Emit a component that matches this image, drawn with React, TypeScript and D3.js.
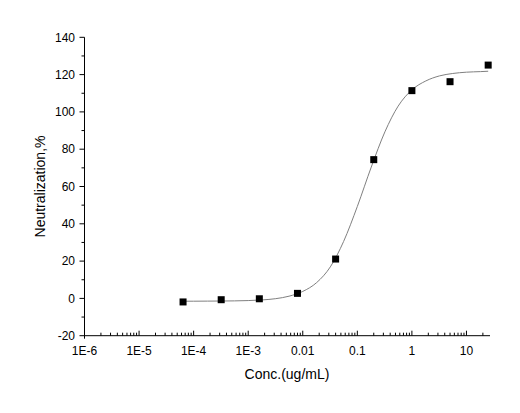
import React from 'react';
import * as d3 from 'd3';

// measured points (5-fold dilution series)
const conc = [0.000064, 0.00032, 0.0016, 0.008, 0.04, 0.2, 1, 5, 25];
const neutralization = [-1.9, -0.7, -0.2, 2.7, 21.1, 74.4, 111.4, 116.2, 125.1];

// fitted curve
const curveConc = [
  0.000064, 0.0001, 0.00018, 0.00032, 0.00056, 0.001, 0.0018, 0.0032, 0.0056,
  0.01, 0.018, 0.032, 0.056, 0.1, 0.18, 0.32, 0.56, 1, 1.8, 3.2, 5.6, 10, 18, 25,
];
const curveValue = [
  -1.5, -1.5, -1.46, -1.41, -1.33, -1.16, -0.82, -0.14, 1.18,
  3.74, 8.5, 16.9, 30.5, 49.3, 70.4, 89.3, 103.1, 111.8, 116.6, 119.3, 120.6, 121.3, 121.6, 121.8,
];

const xTicks = [1e-6, 1e-5, 1e-4, 1e-3, 0.01, 0.1, 1, 10];
const xTickLabels = ['1E-6', '1E-5', '1E-4', '1E-3', '0.01', '0.1', '1', '10'];
const yTicks = [-20, 0, 20, 40, 60, 80, 100, 120, 140];

const W = 520;
const H = 413;
const font = 'Arial, "Liberation Sans", sans-serif';

export default function App() {
  const x = d3.scaleLog().domain([1e-6, 27]).range([84.5, 490]);
  const y = d3.scaleLinear().domain([-20, 140]).range([335.7, 37.3]);

  // minor ticks 2..9 within each decade
  const xMinor: number[] = [];
  for (let e = -6; e <= 1; e++) {
    for (let m = 2; m <= 9; m++) {
      const v = m * Math.pow(10, e);
      if (v <= 27) xMinor.push(v);
    }
  }
  const yMinor = d3.range(-10, 140, 20);

  const line = d3
    .line<number>()
    .x((_, i) => x(curveConc[i]))
    .y((d) => y(d))
    .curve(d3.curveMonotoneX);

  const y0 = y(-20);

  return (
    <svg width={W} height={H} style={{ position: 'absolute', left: 0, top: 0, background: '#fff' }}>
      <rect width={W} height={H} fill="#fff" />

      {/* x axis */}
      <line x1={x(1e-6)} x2={490} y1={y0} y2={y0} stroke="#000" strokeWidth={1} />
      {xTicks.map((t) => (
        <line key={'xt' + t} x1={x(t)} x2={x(t)} y1={y0} y2={y0 - 5} stroke="#000" />
      ))}
      {xMinor.map((t) => (
        <line key={'xm' + t} x1={x(t)} x2={x(t)} y1={y0} y2={y0 - 3} stroke="#000" />
      ))}
      {xTicks.map((t, i) => (
        <text
          key={'xl' + t}
          x={x(t)}
          y={y0 + 19}
          textAnchor="middle"
          fontFamily={font}
          fontSize={12}
          fill="#000"
        >
          {xTickLabels[i]}
        </text>
      ))}
      <text x={287} y={379} textAnchor="middle" fontFamily={font} fontSize={14} fill="#000">
        Conc.(ug/mL)
      </text>

      {/* y axis */}
      <line x1={84.5} x2={84.5} y1={y(140)} y2={y0 + 3} stroke="#000" strokeWidth={1} />
      {yTicks.map((t) => (
        <line key={'yt' + t} x1={84.5} x2={79.5} y1={y(t)} y2={y(t)} stroke="#000" />
      ))}
      {yMinor.map((t) => (
        <line key={'ym' + t} x1={84.5} x2={81.5} y1={y(t)} y2={y(t)} stroke="#000" />
      ))}
      {yTicks.map((t) => (
        <text
          key={'yl' + t}
          x={75}
          y={y(t)}
          dy="0.35em"
          textAnchor="end"
          fontFamily={font}
          fontSize={12}
          fill="#000"
        >
          {t}
        </text>
      ))}
      <text
        transform={`translate(45,${(y(140) + y0) / 2}) rotate(-90)`}
        textAnchor="middle"
        fontFamily={font}
        fontSize={14}
        fill="#000"
      >
        Neutralization,%
      </text>

      {/* fitted curve */}
      <path d={line(curveValue) || ''} fill="none" stroke="#808080" strokeWidth={1} />

      {/* data points */}
      {conc.map((c, i) => (
        <rect
          key={'p' + i}
          x={x(c) - 3.5}
          y={y(neutralization[i]) - 3.5}
          width={7}
          height={7}
          fill="#000"
        />
      ))}
    </svg>
  );
}
